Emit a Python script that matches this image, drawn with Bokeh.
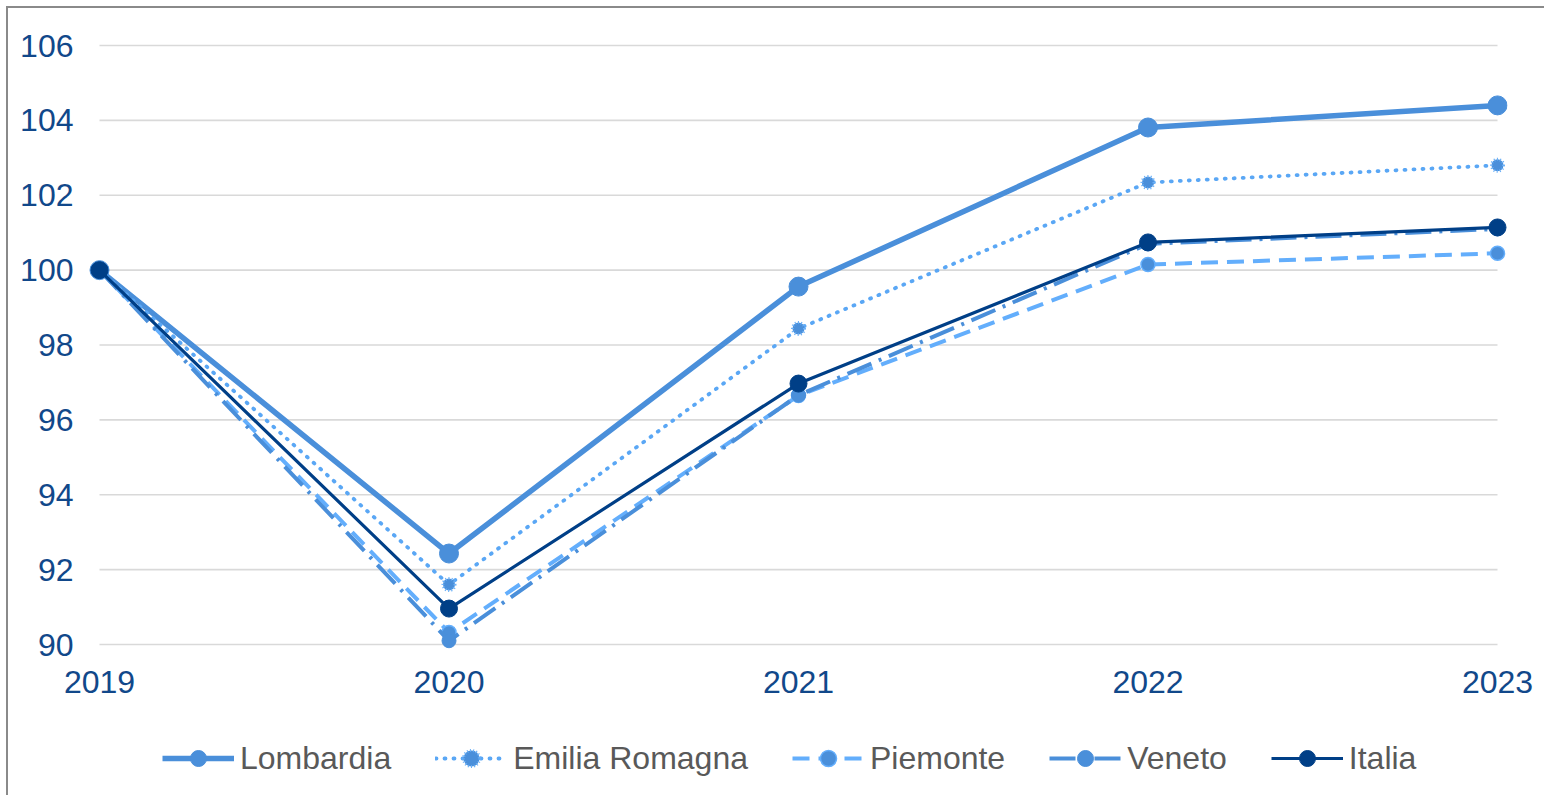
from bokeh.plotting import figure
from bokeh.layouts import column
from bokeh.models import Range1d, FixedTicker, Legend, LegendItem
from bokeh.embed import file_html
from bokeh.resources import INLINE

# ---- data ----
years = [2019, 2020, 2021, 2022, 2023]
year_labels = ["2019", "2020", "2021", "2022", "2023"]
lombardia = [100, 92.43, 99.56, 103.81, 104.40]
emilia_romagna = [100, 91.60, 98.44, 102.34, 102.80]
piemonte = [100, 90.32, 96.65, 100.15, 100.45]
veneto = [100, 90.10, 96.66, 100.70, 101.10]
italia = [100, 90.96, 96.97, 100.74, 101.14]
y_ticks = [90, 92, 94, 96, 98, 100, 102, 104, 106]
series_names = ["Lombardia", "Emilia Romagna", "Piemonte", "Veneto", "Italia"]
series_values = [lombardia, emilia_romagna, piemonte, veneto, italia]

FONT = "Liberation Sans"
TICK_COLOR = "#11488A"
LEGEND_COLOR = "#595959"

STYLES = [
    dict(line=dict(line_color="#4A8FDA", line_width=5.5),
         mark=dict(size=19, fill_color="#4A8FDA", line_color="#4A8FDA")),
    dict(line=dict(line_color="#5AA7F5", line_width=3.8, line_dash="1 8", line_cap="round"),
         mark=dict(size=12, fill_color="#4A8FDA", line_color="#6AB0F7", line_width=3,
                   line_dash="1 2")),
    dict(line=dict(line_color="#63AEFC", line_width=4, line_dash="17 9"),
         mark=dict(size=14, fill_color="#4A8FDA", line_color="#63AEFC", line_width=1.5)),
    dict(line=dict(line_color="#4A8FDA", line_width=4, line_dash="26 8 3 8"),
         mark=dict(size=14, fill_color="#4A8FDA", line_color="#4A8FDA")),
    dict(line=dict(line_color="#003F87", line_width=3.2),
         mark=dict(size=17, fill_color="#003F87", line_color="#003F87")),
]

W = 1536
H_MAIN, H_LEG = 699, 88
ML, MR, MT, MB = 61, 37, 27, 48
frame_w = W - ML - MR
frame_h = H_MAIN - MT - MB
px_year = 349.5
px_unit = 599 / 16.0
x0 = years[0] - 30 / px_year
x1 = x0 + frame_w / px_year
y0 = y_ticks[0] - 15 / px_unit
y1 = y0 + frame_h / px_unit

p = figure(width=W, height=H_MAIN, output_backend="svg", toolbar_location=None,
           x_range=Range1d(x0, x1), y_range=Range1d(y0, y1),
           min_border_left=ML, min_border_right=MR, min_border_top=MT,
           min_border_bottom=MB)
p.outline_line_color = None
p.xgrid.visible = False
p.ygrid.visible = False
p.background_fill_color = "white"
p.border_fill_color = "white"

# gridlines across the category span
p.segment(x0=[years[0]] * len(y_ticks), x1=[years[-1]] * len(y_ticks),
          y0=y_ticks, y1=y_ticks, line_color="#D9D9D9", line_width=1.6)

# axes
p.xaxis.ticker = FixedTicker(ticks=years)
p.xaxis.major_label_overrides = {y: l for y, l in zip(years, year_labels)}
p.yaxis.ticker = FixedTicker(ticks=y_ticks)
for ax in (p.xaxis[0], p.yaxis[0]):
    ax.axis_line_color = None
    ax.major_tick_line_color = None
    ax.minor_tick_line_color = None
    ax.major_label_text_font = FONT
    ax.major_label_text_font_size = "32px"
    ax.major_label_text_color = TICK_COLOR
p.xaxis.major_label_standoff = 5
p.yaxis.major_label_standoff = -10

for vals, st in zip(series_values, STYLES):
    p.line(years, vals, **st["line"])
    p.scatter(years, vals, **st["mark"])

# legend strip below the chart (its own series sit outside its visible range)
lp = figure(width=W, height=H_LEG, output_backend="svg", toolbar_location=None,
            x_range=Range1d(0, 1), y_range=Range1d(0, 1),
            x_axis_location=None, y_axis_location=None, min_border=0)
lp.outline_line_color = None
lp.xgrid.visible = False
lp.ygrid.visible = False
lp.border_fill_color = "white"

items = []
for name, vals, st in zip(series_names, series_values, STYLES):
    lr = lp.line(years, vals, **st["line"])
    mr = lp.scatter(years, vals, **st["mark"])
    items.append(LegendItem(label=name, renderers=[lr, mr]))

legend = Legend(items=items, orientation="horizontal", location=(93, 17),
                glyph_width=72, glyph_height=40, label_standoff=6, spacing=44,
                padding=0, margin=0, border_line_color=None,
                background_fill_alpha=0,
                label_text_font=FONT, label_text_font_size="32px",
                label_text_color=LEGEND_COLOR)
lp.add_layout(legend, "center")

layout = column(p, lp, spacing=0,
                styles={"margin-left": "6px", "margin-top": "6px",
                        "border-left": "2px solid #8A8A8A",
                        "border-top": "2px solid #8A8A8A"})

open("out.html", "w").write(file_html(layout, INLINE))
